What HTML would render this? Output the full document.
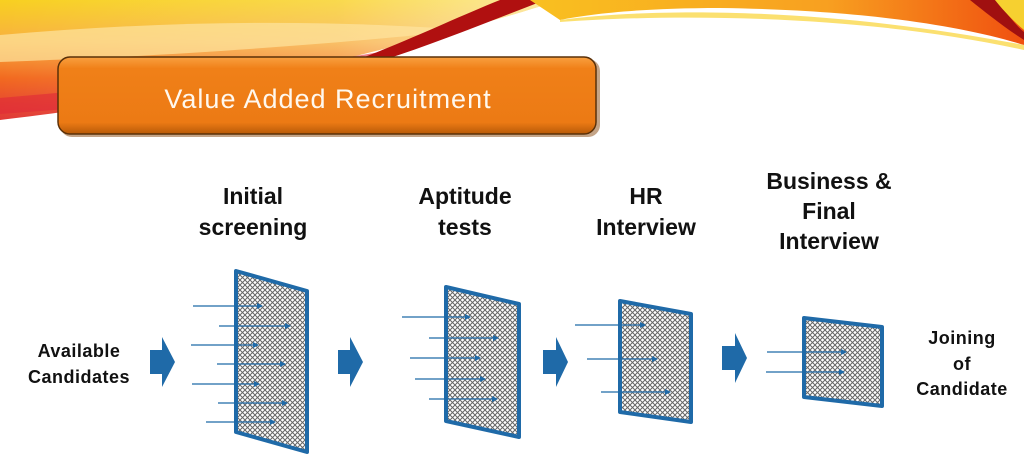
<!DOCTYPE html>
<html><head><meta charset="utf-8"><style>
html,body{margin:0;padding:0;background:#fff;}
svg{display:block;}
text{font-family:"Liberation Sans",Arial,sans-serif;}
</style></head><body>
<svg width="1024" height="474" viewBox="0 0 1024 474" xmlns="http://www.w3.org/2000/svg">
<defs>
<linearGradient id="sw1" x1="0" y1="0" x2="0" y2="1">
<stop offset="0" stop-color="#f8d020"/><stop offset="0.35" stop-color="#f8b040"/><stop offset="0.65" stop-color="#f26a20"/><stop offset="1" stop-color="#e03838"/>
</linearGradient>
<linearGradient id="fadeR" x1="0" y1="0" x2="1" y2="0">
<stop offset="0" stop-color="#fff" stop-opacity="0"/><stop offset="0.6" stop-color="#fff" stop-opacity="0.2"/><stop offset="1" stop-color="#fff" stop-opacity="0.6"/>
</linearGradient>
<linearGradient id="sw2" x1="0" y1="0" x2="1" y2="0">
<stop offset="0" stop-color="#f9c020"/><stop offset="0.6" stop-color="#f8a020"/><stop offset="1" stop-color="#f05010"/>
</linearGradient>
<linearGradient id="btn" x1="0" y1="0" x2="0" y2="1">
<stop offset="0" stop-color="#f9a040"/><stop offset="0.15" stop-color="#f08018"/><stop offset="0.85" stop-color="#ec7a14"/><stop offset="1" stop-color="#b85a08"/>
</linearGradient>
<pattern id="mesh" width="5" height="5" patternUnits="userSpaceOnUse">
<rect width="5" height="5" fill="#fff"/>
<path d="M0 0L5 5M5 0L0 5" stroke="#666" stroke-width="1"/>
</pattern>
<marker id="ah" markerWidth="6" markerHeight="6" refX="5" refY="3" orient="auto" markerUnits="userSpaceOnUse">
<path d="M0 0L6 3L0 6z" fill="#1f6aa8"/>
</marker>
</defs>
<!-- swoosh -->
<path d="M0 0 L560 0 C500 20 420 40 300 70 C200 95 80 110 0 120 Z" fill="url(#sw1)"/>
<path d="M0 0 L560 0 C500 20 420 40 300 70 C200 95 80 110 0 120 Z" fill="url(#fadeR)"/>
<path d="M0 35 C150 22 300 18 470 30 C350 42 200 55 0 62 Z" fill="#fde4a0" opacity="0.7"/>
<path d="M0 98 C120 88 260 72 380 52 C300 82 180 102 0 114 Z" fill="#e02838" opacity="0.6"/>
<path d="M330 70 C400 45 450 20 500 0 L545 0 C480 25 420 50 345 72 Z" fill="#b01010"/>
<path d="M530 0 L1024 0 L1024 45 C960 25 860 10 720 8 C640 8 590 14 560 20 Z" fill="url(#sw2)"/>
<path d="M560 20 C650 8 820 6 1024 45 L1024 50 C880 18 700 12 560 22 Z" fill="#fbe070"/>
<path d="M970 0 L995 0 C1005 10 1015 25 1024 32 L1024 40 C1005 28 985 12 970 0 Z" fill="#a01010"/>
<path d="M995 0 L1024 0 L1024 30 C1012 20 1003 10 995 0 Z" fill="#f6d030"/>
<!-- title button -->
<rect x="60" y="59" width="540" height="78" rx="12" fill="#8a4a10" opacity="0.5"/>
<rect x="58" y="57" width="538" height="77" rx="12" fill="url(#btn)" stroke="#5a3008" stroke-width="1.5"/>
<text x="328" y="108" text-anchor="middle" font-size="27" fill="#fff8ee" letter-spacing="1">Value Added Recruitment</text>
<!-- headers -->
<g font-weight="bold" font-size="23" fill="#111" text-anchor="middle">
<text x="253" y="204">Initial</text><text x="253" y="235">screening</text>
<text x="465" y="204">Aptitude</text><text x="465" y="235">tests</text>
<text x="646" y="204">HR</text><text x="646" y="235">Interview</text>
<text x="829" y="189">Business &amp;</text><text x="829" y="219">Final</text><text x="829" y="249">Interview</text>
</g>
<g font-weight="bold" font-size="18" fill="#111" text-anchor="middle" letter-spacing="0.5">
<text x="79" y="357">Available</text><text x="79" y="383">Candidates</text>
<text x="962" y="344">Joining</text><text x="962" y="370">of</text><text x="962" y="395">Candidate</text>
</g>
<!-- panels -->
<g stroke="#1f6aa8" stroke-width="4" fill="url(#mesh)" stroke-linejoin="round">
<path d="M236 271 L307 291 L307 452 L236 432 Z"/>
<path d="M446 287 L519 304 L519 437 L446 421 Z"/>
<path d="M620 301 L691 314 L691 422 L620 412 Z"/>
<path d="M804 318 L882 327 L882 406 L804 397 Z"/>
</g>
<!-- lines -->
<g stroke="#1f6aa8" stroke-width="1.3" marker-end="url(#ah)">
<line x1="193" y1="306" x2="262" y2="306"/>
<line x1="219" y1="326" x2="290" y2="326"/>
<line x1="191" y1="345" x2="258" y2="345"/>
<line x1="217" y1="364" x2="285" y2="364"/>
<line x1="192" y1="384" x2="259" y2="384"/>
<line x1="218" y1="403" x2="287" y2="403"/>
<line x1="206" y1="422" x2="275" y2="422"/>
<line x1="402" y1="317" x2="470" y2="317"/>
<line x1="429" y1="338" x2="498" y2="338"/>
<line x1="410" y1="358" x2="480" y2="358"/>
<line x1="415" y1="379" x2="485" y2="379"/>
<line x1="429" y1="399" x2="497" y2="399"/>
<line x1="575" y1="325" x2="645" y2="325"/>
<line x1="587" y1="359" x2="657" y2="359"/>
<line x1="601" y1="392" x2="670" y2="392"/>
<line x1="767" y1="352" x2="846" y2="352"/>
<line x1="766" y1="372" x2="844" y2="372"/>
</g>
<!-- block arrows -->
<g fill="#1f6aa8">
<path d="M150 350 L162 350 L162 337 L175 362 L162 387 L162 374 L150 374 Z"/>
<path d="M338 350 L350 350 L350 337 L363 362 L350 387 L350 374 L338 374 Z"/>
<path d="M543 350 L556 350 L556 337 L568 362 L556 387 L556 374 L543 374 Z"/>
<path d="M722 346 L735 346 L735 333 L747 358 L735 383 L735 370 L722 370 Z"/>
</g>
</svg>
</body></html>
